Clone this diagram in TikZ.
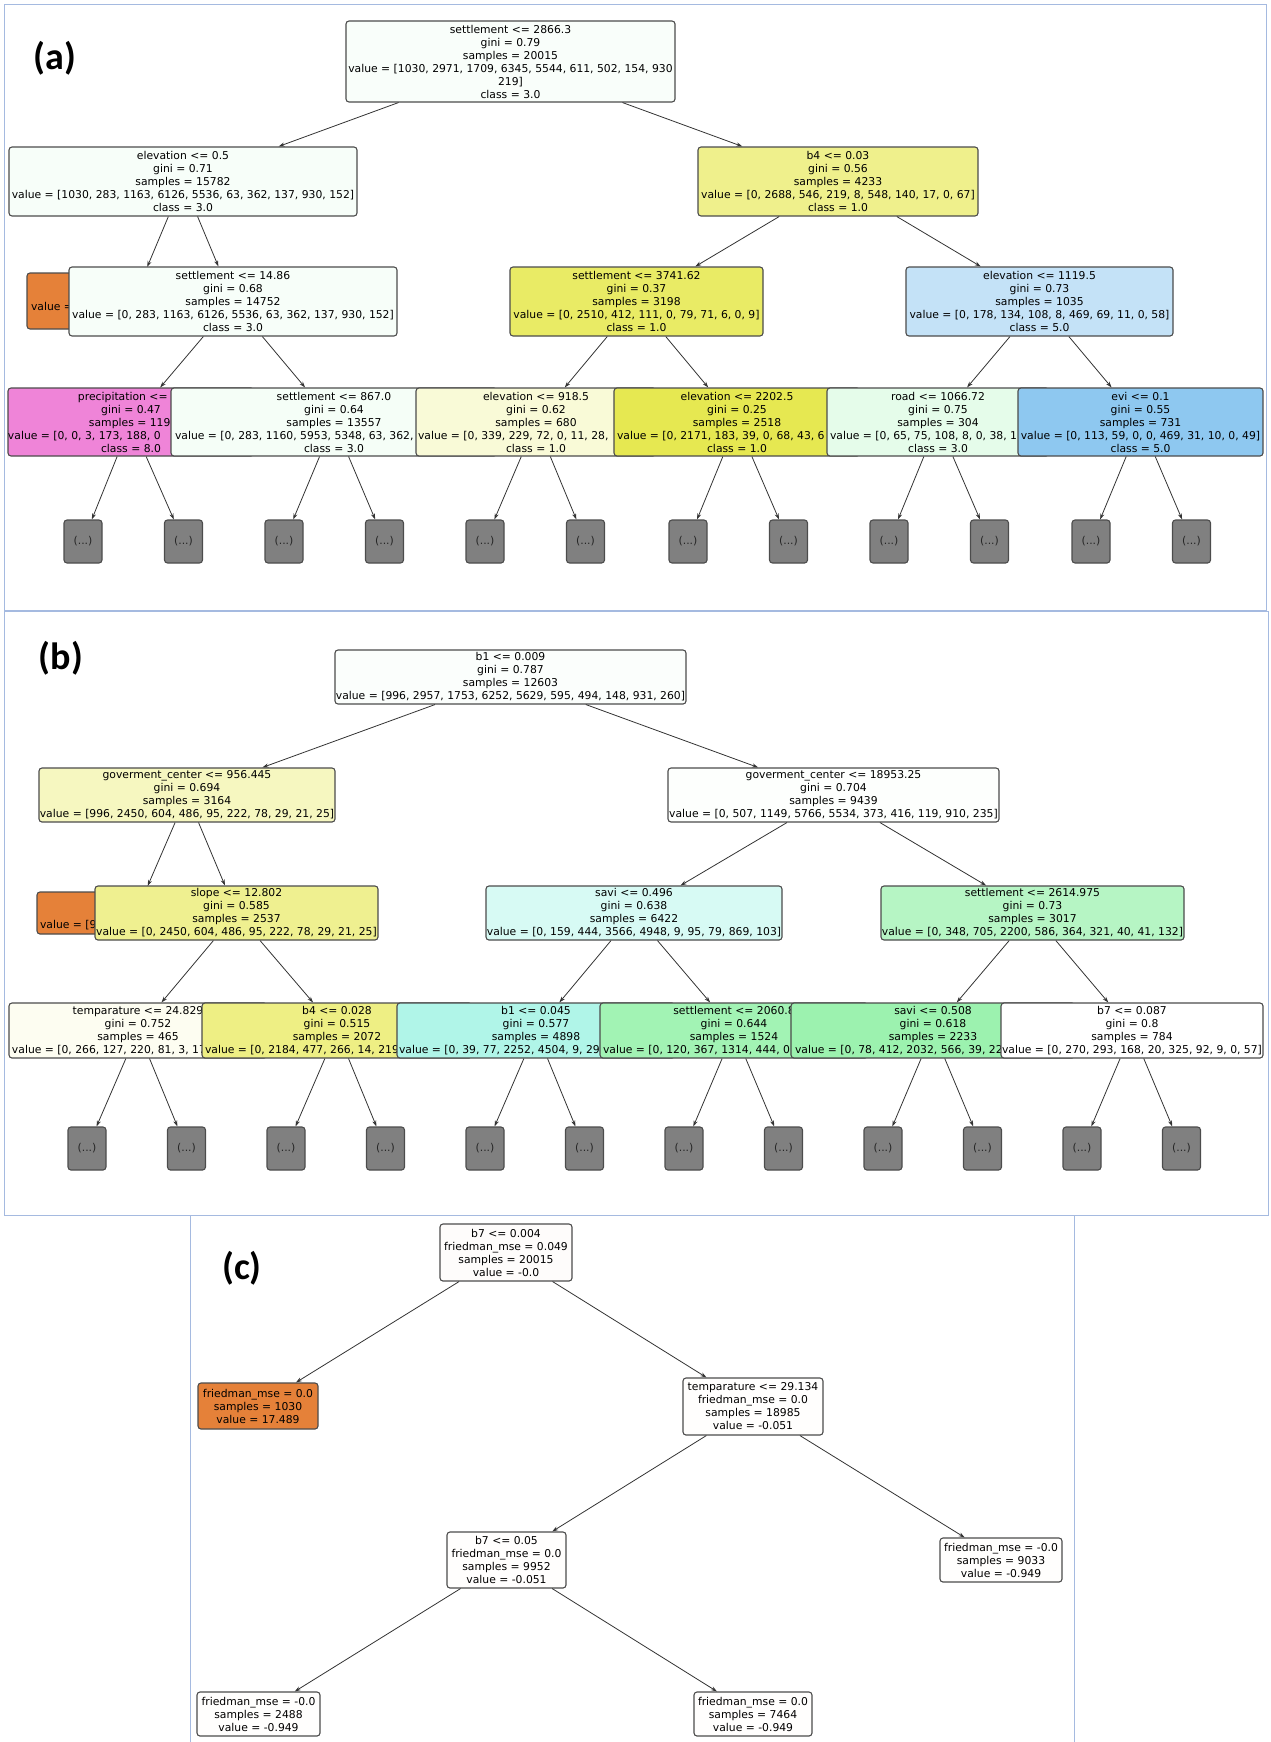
\documentclass[tikz,border=0pt]{standalone}
\usepackage{fontspec}
\setmainfont{DejaVu Sans}
\newfontfamily\labfont{Carlito}
\usetikzlibrary{arrows.meta}
\definecolor{clsorange}{RGB}{229,129,57}
\definecolor{clsyellow}{RGB}{227,229,57}
\definecolor{clsgreen}{RGB}{57,229,95}
\definecolor{clscyan}{RGB}{57,229,198}
\definecolor{clsblue}{RGB}{57,158,229}
\definecolor{clsmagenta}{RGB}{229,57,192}
\definecolor{framecol}{RGB}{165,186,224}
% a value line cut off by the box drawn over it
\newcommand*{\cutl}[2]{\makebox[#1pt][l]{#2}}
\tikzset{
  tbox/.style={draw=black!70, line width=1.1pt, rounded corners=3pt, inner sep=0pt,
    align=center, font=\fontsize{10.8}{13}\selectfont},
  box/.style 2 args={minimum width=#1pt, minimum height=#2pt},
  more/.style={tbox, fill=black!50, text=black!85, box={38}{43}},
  arr/.style={-{Stealth[length=6pt,width=4pt]}, line width=0.8pt, black!80},
  frame/.style={draw=framecol, line width=1pt},
  plabel/.style={font=\labfont\bfseries\fontsize{38}{42}\selectfont}
}
\begin{document}
\begin{tikzpicture}[x=1pt, y=-1pt]
  \useasboundingbox (0,0) rectangle (1271,1742);
  \draw[frame] (4,5) rectangle (1266,610);
  \draw[frame] (4,611) rectangle (1268,1215);
  \draw[frame] (190,1215) -- (190,1742);
  \draw[frame] (1074,1215) -- (1074,1742);

  % (a)
  \node[plabel] (laba) at (55,58) {(a)};
  \node[tbox, box={329}{81}, fill=clsgreen!3!white] (aroot) at (510.5,61.5)
    {settlement <= 2866.3\\gini = 0.79\\samples = 20015\\value = [1030, 2971, 1709, 6345, 5544, 611, 502, 154, 930\\219]\\class = 3.0};
  \node[tbox, box={348}{69}, fill=clsgreen!4!white] (aelev) at (183,181.5)
    {elevation <= 0.5\\gini = 0.71\\samples = 15782\\value = [1030, 283, 1163, 6126, 5536, 63, 362, 137, 930, 152]\\class = 3.0};
  \node[tbox, box={280}{69}, fill=clsyellow!58!white] (ab4) at (838,181.5)
    {b4 <= 0.03\\gini = 0.56\\samples = 4233\\value = [0, 2688, 546, 219, 8, 548, 140, 17, 0, 67]\\class = 1.0};

  \node[tbox, box={212}{56}, fill=clsorange] (aleaf) at (133,301)
    {\strut\\\strut\\\cutl{204}{value =}\\\strut};
  \node[tbox, box={328}{69}, fill=clsgreen!4!white] (asett1) at (233,301.5)
    {settlement <= 14.86\\gini = 0.68\\samples = 14752\\value = [0, 283, 1163, 6126, 5536, 63, 362, 137, 930, 152]\\class = 3.0};
  \node[tbox, box={253}{69}, fill=clsyellow!78!white] (asett2) at (636.5,301.5)
    {settlement <= 3741.62\\gini = 0.37\\samples = 3198\\value = [0, 2510, 412, 111, 0, 79, 71, 6, 0, 9]\\class = 1.0};
  \node[tbox, box={267}{69}, fill=clsblue!30!white] (aelev2) at (1039.5,301.5)
    {elevation <= 1119.5\\gini = 0.73\\samples = 1035\\value = [0, 178, 134, 108, 8, 469, 69, 11, 0, 58]\\class = 5.0};

  \node[tbox, box={228}{68}, fill=clsmagenta!62!white] (aprec) at (131,422)
    {\cutl{106}{precipitation <=}\\gini = 0.47\\\cutl{84}{samples = 119}\\\cutl{246}{value = [0, 0, 3, 173, 188, 0}\\class = 8.0};
  \node[tbox, box={326}{68}, fill=clsgreen!5!white] (asett3) at (334,422)
    {settlement <= 867.0\\gini = 0.64\\samples = 13557\\\cutl{318}{value = [0, 283, 1160, 5953, 5348, 63, 362,}\\class = 3.0};
  \node[tbox, box={240}{68}, fill=clsyellow!20!white] (aelev3) at (536,422)
    {elevation <= 918.5\\gini = 0.62\\samples = 680\\\cutl{236}{value = [0, 339, 229, 72, 0, 11, 28,}\\class = 1.0};
  \node[tbox, box={246}{68}, fill=clsyellow!88!white] (aelev4) at (737,422)
    {elevation <= 2202.5\\gini = 0.25\\samples = 2518\\\cutl{240}{value = [0, 2171, 183, 39, 0, 68, 43, 6}\\class = 1.0};
  \node[tbox, box={222}{68}, fill=clsgreen!13!white] (aroad) at (938,422)
    {road <= 1066.72\\gini = 0.75\\samples = 304\\\cutl{216}{value = [0, 65, 75, 108, 8, 0, 38, 1}\\class = 3.0};
  \node[tbox, box={245}{68}, fill=clsblue!57!white] (aevi) at (1140.5,422)
    {evi <= 0.1\\gini = 0.55\\samples = 731\\value = [0, 113, 59, 0, 0, 469, 31, 10, 0, 49]\\class = 5.0};

  \draw[arr] (aroot) -- (aelev);
  \draw[arr] (aroot) -- (ab4);
  \draw[arr, shorten >=6pt] (aelev) -- (aleaf);
  \draw[arr] (aelev) -- (asett1);
  \draw[arr] (ab4) -- (asett2);
  \draw[arr] (ab4) -- (aelev2);
  \draw[arr] (asett1) -- (aprec);
  \draw[arr] (asett1) -- (asett3);
  \draw[arr] (asett2) -- (aelev3);
  \draw[arr] (asett2) -- (aelev4);
  \draw[arr] (aelev2) -- (aroad);
  \draw[arr] (aelev2) -- (aevi);
  \foreach \p/\x in {aprec/83, asett3/284, aelev3/485, aelev4/688, aroad/889, aevi/1091} {
    \node[more] (\p-l) at (\x,541.5) {(...)};
    \node[more] (\p-r) at ({\x+100.5},541.5) {(...)};
    \draw[arr] (\p) -- (\p-l);
    \draw[arr] (\p) -- (\p-r);
  }

  % (b)
  \node[plabel] (labb) at (61,658) {(b)};
  \node[tbox, box={351}{54}, fill=clsgreen!2!white] (broot) at (510.5,677)
    {b1 <= 0.009\\gini = 0.787\\samples = 12603\\value = [996, 2957, 1753, 6252, 5629, 595, 494, 148, 931, 260]};
  \node[tbox, box={296}{54}, fill=clsyellow!32!white] (bgov1) at (187,795)
    {goverment\_center <= 956.445\\gini = 0.694\\samples = 3164\\value = [996, 2450, 604, 486, 95, 222, 78, 29, 21, 25]};
  \node[tbox, box={331}{54}, fill=clsgreen!1!white] (bgov2) at (833.5,795)
    {goverment\_center <= 18953.25\\gini = 0.704\\samples = 9439\\value = [0, 507, 1149, 5766, 5534, 373, 416, 119, 910, 235]};

  \node[tbox, box={198}{42}, fill=clsorange] (bleaf) at (136,913)
    {\strut\\\strut\\\cutl{192}{value = [9}\strut};
  \node[tbox, box={283}{54}, fill=clsyellow!56!white] (bslope) at (236.5,913)
    {slope <= 12.802\\gini = 0.585\\samples = 2537\\value = [0, 2450, 604, 486, 95, 222, 78, 29, 21, 25]};
  \node[tbox, box={296}{54}, fill=clscyan!20!white] (bsavi1) at (634,913)
    {savi <= 0.496\\gini = 0.638\\samples = 6422\\value = [0, 159, 444, 3566, 4948, 9, 95, 79, 869, 103]};
  \node[tbox, box={303}{54}, fill=clsgreen!37!white] (bsett1) at (1032.5,913)
    {settlement <= 2614.975\\gini = 0.73\\samples = 3017\\value = [0, 348, 705, 2200, 586, 364, 321, 40, 41, 132]};

  \node[tbox, box={258}{55}, fill=clsyellow!7!white] (btemp) at (138,1030.5)
    {temparature <= 24.829\\gini = 0.752\\samples = 465\\\cutl{252}{value = [0, 266, 127, 220, 81, 3, 17}};
  \node[tbox, box={270}{55}, fill=clsyellow!62!white] (bb4) at (337,1030.5)
    {b4 <= 0.028\\gini = 0.515\\samples = 2072\\\cutl{264}{value = [0, 2184, 477, 266, 14, 219}};
  \node[tbox, box={278}{55}, fill=clscyan!40!white] (bb1) at (536,1030.5)
    {b1 <= 0.045\\gini = 0.577\\samples = 4898\\\cutl{274}{value = [0, 39, 77, 2252, 4504, 9, 29}};
  \node[tbox, box={268}{55}, fill=clsgreen!47!white] (bsett2) at (734,1030.5)
    {settlement <= 2060.8\\gini = 0.644\\samples = 1524\\\cutl{262}{value = [0, 120, 367, 1314, 444, 0,}};
  \node[tbox, box={284}{55}, fill=clsgreen!50!white] (bsavi2) at (933,1030.5)
    {savi <= 0.508\\gini = 0.618\\samples = 2233\\\cutl{276}{value = [0, 78, 412, 2032, 566, 39, 22}};
  \node[tbox, box={262}{55}, fill=white] (bb7) at (1132,1030.5)
    {b7 <= 0.087\\gini = 0.8\\samples = 784\\value = [0, 270, 293, 168, 20, 325, 92, 9, 0, 57]};

  \draw[arr] (broot) -- (bgov1);
  \draw[arr] (broot) -- (bgov2);
  \draw[arr, shorten >=6pt] (bgov1) -- (bleaf);
  \draw[arr] (bgov1) -- (bslope);
  \draw[arr] (bgov2) -- (bsavi1);
  \draw[arr] (bgov2) -- (bsett1);
  \draw[arr] (bslope) -- (btemp);
  \draw[arr] (bslope) -- (bb4);
  \draw[arr] (bsavi1) -- (bb1);
  \draw[arr] (bsavi1) -- (bsett2);
  \draw[arr] (bsett1) -- (bsavi2);
  \draw[arr] (bsett1) -- (bb7);
  \foreach \p/\x in {btemp/87, bb4/286, bb1/485, bsett2/684, bsavi2/883, bb7/1082} {
    \node[more] (\p-l) at (\x,1148.5) {(...)};
    \node[more] (\p-r) at ({\x+99.5},1148.5) {(...)};
    \draw[arr] (\p) -- (\p-l);
    \draw[arr] (\p) -- (\p-r);
  }

  % (c)
  \node[plabel] (labc) at (242,1268) {(c)};
  \node[tbox, box={132}{57}, fill=clsorange!2!white] (croot) at (506,1252.5)
    {b7 <= 0.004\\friedman\_mse = 0.049\\samples = 20015\\value = -0.0};
  \node[tbox, box={120}{46}, fill=clsorange] (cleaf1) at (258,1406)
    {friedman\_mse = 0.0\\samples = 1030\\value = 17.489};
  \node[tbox, box={140}{57}, fill=clsorange!1!white] (ctemp) at (753,1406.5)
    {temparature <= 29.134\\friedman\_mse = 0.0\\samples = 18985\\value = -0.051};
  \node[tbox, box={119}{56}, fill=clsorange!1!white] (cb7) at (506.5,1560)
    {b7 <= 0.05\\friedman\_mse = 0.0\\samples = 9952\\value = -0.051};
  \node[tbox, box={122}{44}, fill=clsorange!1!white] (cleaf2) at (1001,1560)
    {friedman\_mse = -0.0\\samples = 9033\\value = -0.949};
  \node[tbox, box={123}{44}, fill=clsorange!1!white] (cleaf3) at (258.5,1714)
    {friedman\_mse = -0.0\\samples = 2488\\value = -0.949};
  \node[tbox, box={118}{44}, fill=clsorange!1!white] (cleaf4) at (753,1714)
    {friedman\_mse = 0.0\\samples = 7464\\value = -0.949};

  \draw[arr] (croot) -- (cleaf1);
  \draw[arr] (croot) -- (ctemp);
  \draw[arr] (ctemp) -- (cb7);
  \draw[arr] (ctemp) -- (cleaf2);
  \draw[arr] (cb7) -- (cleaf3);
  \draw[arr] (cb7) -- (cleaf4);
\end{tikzpicture}
\end{document}
